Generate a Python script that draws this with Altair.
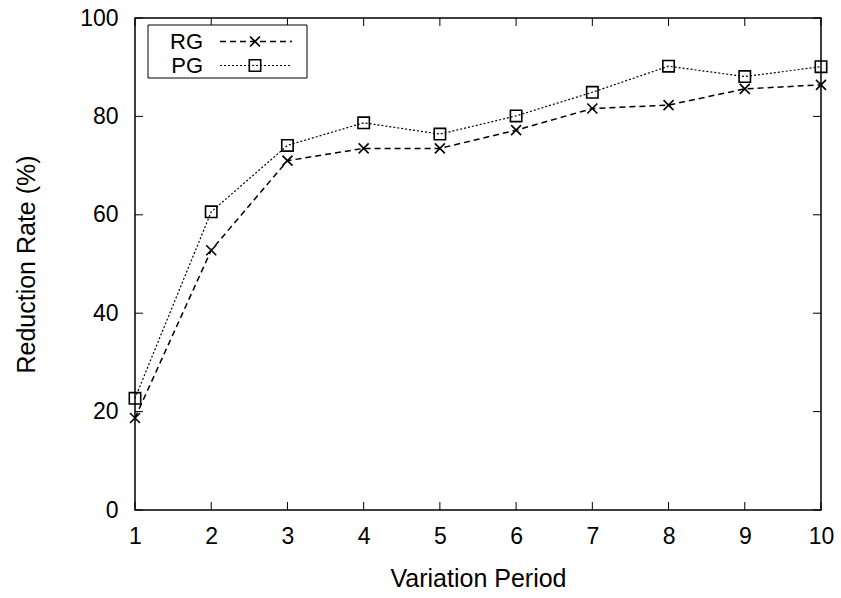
import altair as alt
import pandas as pd

# Reduction rate per variation period for the two grouping strategies
periods = [1, 2, 3, 4, 5, 6, 7, 8, 9, 10]
rg_values = [18.7, 52.8, 71.0, 73.5, 73.5, 77.2, 81.6, 82.3, 85.6, 86.4]
pg_values = [22.7, 60.6, 74.1, 78.7, 76.4, 80.1, 84.9, 90.2, 88.1, 90.1]

x_ticks = periods
y_ticks = [0, 20, 40, 60, 80, 100]

W, H = 686, 492
FONT = "Liberation Sans"
X_SHAPE = "M-1,-1L1,1M-1,1L1,-1"

df = pd.DataFrame({"period": periods, "RG": rg_values, "PG": pg_values})
xt = pd.DataFrame({"v": x_ticks})
yt = pd.DataFrame({"v": y_ticks})
one = pd.DataFrame({"k": [0]})

xs = alt.Scale(domain=[1, 10], nice=False, zero=False)
ys = alt.Scale(domain=[0, 100], nice=False)

x_axis = alt.Axis(values=x_ticks, title="Variation Period", ticks=False, domain=False,
                  grid=False, labelPadding=15, titlePadding=18, format="d",
                  labelFlush=False)
y_axis = alt.Axis(values=y_ticks, title="Reduction Rate (%)", ticks=False, domain=False,
                  grid=False, labelPadding=17, titlePadding=40, labelFlush=False)

base = alt.Chart(df)

rg_line = base.mark_line(color="black", strokeWidth=1.5, strokeDash=[6, 4]).encode(
    x=alt.X("period:Q", scale=xs, axis=x_axis),
    y=alt.Y("RG:Q", scale=ys, axis=y_axis),
)
pg_line = base.mark_line(color="black", strokeWidth=1.2, strokeDash=[2, 2]).encode(
    x=alt.X("period:Q", scale=xs),
    y=alt.Y("PG:Q", scale=ys),
)
rg_pts = base.mark_point(shape=X_SHAPE, size=100, filled=False, color="black",
                         strokeWidth=1.6, opacity=1).encode(
    x=alt.X("period:Q", scale=xs), y=alt.Y("RG:Q", scale=ys))
pg_pts = base.mark_point(shape="square", size=130, filled=False, color="black",
                         strokeWidth=1.6, opacity=1).encode(
    x=alt.X("period:Q", scale=xs), y=alt.Y("PG:Q", scale=ys))

# Inward ticks mirrored on all four sides
tick_len = 8
tb = alt.Chart(xt).mark_rule(color="black", strokeWidth=1).encode(
    x=alt.X("v:Q", scale=xs), y=alt.value(H), y2=alt.value(H - tick_len))
tt = alt.Chart(xt).mark_rule(color="black", strokeWidth=1).encode(
    x=alt.X("v:Q", scale=xs), y=alt.value(0), y2=alt.value(tick_len))
tl = alt.Chart(yt).mark_rule(color="black", strokeWidth=1).encode(
    y=alt.Y("v:Q", scale=ys), x=alt.value(0), x2=alt.value(tick_len))
tr = alt.Chart(yt).mark_rule(color="black", strokeWidth=1).encode(
    y=alt.Y("v:Q", scale=ys), x=alt.value(W), x2=alt.value(W - tick_len))

# Key box in the upper-left corner
row1, row2 = 23.5, 47.5
key = alt.Chart(one)
key_box = key.mark_rect(fill="white", stroke="black", strokeWidth=1).encode(
    x=alt.value(13), x2=alt.value(172), y=alt.value(7), y2=alt.value(60))
key_rg_txt = key.mark_text(text="RG", align="right", baseline="middle", font=FONT,
                           fontSize=22, color="black").encode(
    x=alt.value(68), y=alt.value(row1))
key_pg_txt = key.mark_text(text="PG", align="right", baseline="middle", font=FONT,
                           fontSize=22, color="black").encode(
    x=alt.value(68), y=alt.value(row2))
key_rg_line = key.mark_rule(color="black", strokeWidth=1.5, strokeDash=[6, 4]).encode(
    x=alt.value(85), x2=alt.value(157), y=alt.value(row1))
key_pg_line = key.mark_rule(color="black", strokeWidth=1.2, strokeDash=[2, 2]).encode(
    x=alt.value(85), x2=alt.value(157), y=alt.value(row2))
key_rg_pt = key.mark_point(shape=X_SHAPE, size=100, filled=False, color="black",
                           strokeWidth=1.6, opacity=1).encode(
    x=alt.value(120), y=alt.value(row1))
key_pg_pt = key.mark_point(shape="square", size=130, filled=False, color="black",
                           strokeWidth=1.6, opacity=1).encode(
    x=alt.value(120), y=alt.value(row2))

chart = alt.layer(
    tb, tt, tl, tr, rg_line, pg_line, rg_pts, pg_pts,
    key_box, key_rg_txt, key_pg_txt, key_rg_line, key_pg_line, key_rg_pt, key_pg_pt,
).properties(
    width=W, height=H,
    background="white",
    autosize=alt.AutoSizeParams(type="none"),
    padding={"left": 135, "top": 18, "right": 20, "bottom": 88},
).configure_view(
    stroke="black", strokeWidth=1.5
).configure_axis(
    labelFont=FONT, titleFont=FONT, labelFontSize=23, titleFontSize=25,
    labelColor="black", titleColor="black", titleFontWeight="normal",
)

chart.save("out.html", embed_options={"renderer": "svg", "actions": False})
